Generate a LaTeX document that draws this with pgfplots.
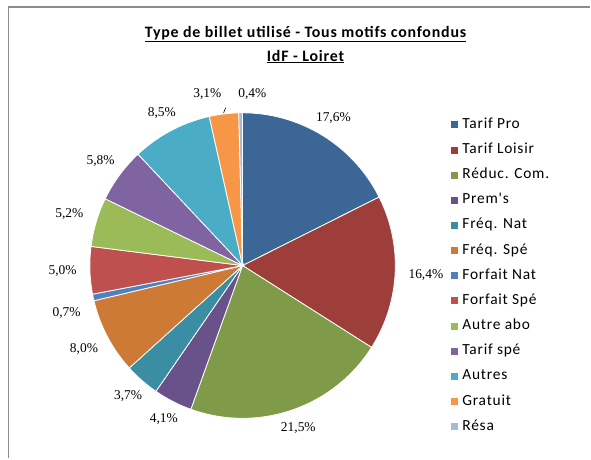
\documentclass[border=0pt]{standalone}
\usepackage{pgfplots}
\pgfplotsset{compat=1.18}
\usepackage{pgfplotstable}
\usepackage{fontspec}
\setmainfont{Carlito}
\newfontfamily\lblfont{Liberation Serif}
\newfontfamily\widefont[LetterSpace=5]{Carlito}

% slice colours (Excel 2007 style)
\definecolor{c0}{HTML}{3C6696}
\definecolor{c1}{HTML}{9E3E3B}
\definecolor{c2}{HTML}{7F9A48}
\definecolor{c3}{HTML}{69518A}
\definecolor{c4}{HTML}{3A8DA3}
\definecolor{c5}{HTML}{CD7A36}
\definecolor{c6}{HTML}{4F81BD}
\definecolor{c7}{HTML}{C0504D}
\definecolor{c8}{HTML}{9BBB59}
\definecolor{c9}{HTML}{8064A2}
\definecolor{c10}{HTML}{4BACC6}
\definecolor{c11}{HTML}{F79646}
\definecolor{c12}{HTML}{A7B9DA}

% share in %, label radius, label angle shift
\pgfplotstableread{
name value lr da
{Tarif Pro} 17.6 1.08 0
{Tarif Loisir} 16.4 1.08 0
{Réduc. Com.} 21.5 1.08 0
{Prem's} 4.1 1.08 0
{Fréq. Nat} 3.7 1.08 0
{Fréq. Spé} 8.0 1.08 0
{Forfait Nat} 0.7 1.09 3
{Forfait Spé} 5.0 1.08 0
{Autre abo} 5.2 1.08 0
{Tarif spé} 5.8 1.08 0
{Autres} 8.5 1.08 0
{Gratuit} 3.1 1.10 4.6
{Résa} 0.4 1.08 -4
}\data

% start/end angles, clockwise from the top
\def\cum{0}
\pgfplotsforeachungrouped \i in {0,...,12}{%
  \pgfplotstablegetelem{\i}{value}\of\data \let\val\pgfplotsretval
  \pgfplotstablegetelem{\i}{lr}\of\data \let\lrad\pgfplotsretval
  \pgfplotstablegetelem{\i}{da}\of\data \let\dang\pgfplotsretval
  \pgfplotstablegetelem{\i}{name}\of\data
  \expandafter\global\expandafter\let\csname sN\i\endcsname\pgfplotsretval
  \pgfmathsetmacro\hi{90-3.6*\cum}
  \pgfmathsetmacro\lo{90-3.6*(\cum+\val)}
  \pgfmathsetmacro\midang{90-3.6*(\cum+\val/2)+\dang}
  \pgfmathtruncatemacro\anc{mod(round(\midang+180)+720,360)}
  \expandafter\xdef\csname sH\i\endcsname{\hi}
  \expandafter\xdef\csname sL\i\endcsname{\lo}
  \expandafter\xdef\csname sM\i\endcsname{\midang}
  \expandafter\xdef\csname sA\i\endcsname{\anc}
  \expandafter\xdef\csname sR\i\endcsname{\lrad}
  \expandafter\xdef\csname sV\i\endcsname{\val}
  \pgfmathsetmacro\cum{\cum+\val}
}

\begin{document}
\begin{tikzpicture}
\begin{axis}[
  scale only axis,
  width=591bp, height=459bp,
  xmin=-1.5882, xmax=2.2745, ymin=-1.2614, ymax=1.7386,
  hide axis, clip=false,
  legend image code/.code={\fill[#1,draw=none] (0bp,-3.5bp) rectangle (7bp,3.5bp);},
  legend style={
    at={(axis cs:1.366,0.965)}, anchor=north west,
    draw=none, fill=none, inner sep=0pt,
    font=\widefont\fontsize{15.5}{18}\selectfont,
    row sep=12.2bp,
    nodes={inner sep=0pt, text height=10bp, text depth=3bp},
    /tikz/every odd column/.append style={column sep=4bp},
  },
  legend cell align=left,
]
\path (rel axis cs:0,0) rectangle (rel axis cs:1,1);

\pgfplotsinvokeforeach{0,...,12}{
  \addplot[fill=c#1, draw=white, line width=0.8bp, samples=60,
    domain=\csname sL#1\endcsname:\csname sH#1\endcsname]
    ({cos(x)},{sin(x)}) -- (axis cs:0,0) -- cycle;
  \addlegendentry{\csname sN#1\endcsname}
}

\pgfplotsinvokeforeach{0,...,12}{
  \node[font=\lblfont\fontsize{13.5}{15}\selectfont, inner sep=1bp,
    anchor=\csname sA#1\endcsname]
    at (axis cs:{\csname sR#1\endcsname*cos(\csname sM#1\endcsname)},
                {\csname sR#1\endcsname*sin(\csname sM#1\endcsname)})
    {\pgfmathprintnumber[fixed,fixed zerofill,precision=1,use comma,assume math mode=true]{\csname sV#1\endcsname}\%};
}
% leader line for Gratuit
\draw[black, line width=0.6bp] (axis cs:-0.124,1.0) -- (axis cs:-0.111,1.033);

% title
\node[font=\widefont\bfseries\fontsize{16}{18}\selectfont] at (axis cs:0.412,1.514)
  {\underline{Type de billet utilisé - Tous motifs confondus}};
\node[font=\widefont\bfseries\fontsize{16}{18}\selectfont] at (axis cs:0.412,1.368)
  {\underline{IdF - Loiret}};

% chart frame (top and left edges only)
\draw[color=gray!90, line width=2bp]
  (rel axis cs:0.0144,0) -- (rel axis cs:0.0144,0.9847) -- (rel axis cs:1,0.9847);
\end{axis}
\end{tikzpicture}
\end{document}
